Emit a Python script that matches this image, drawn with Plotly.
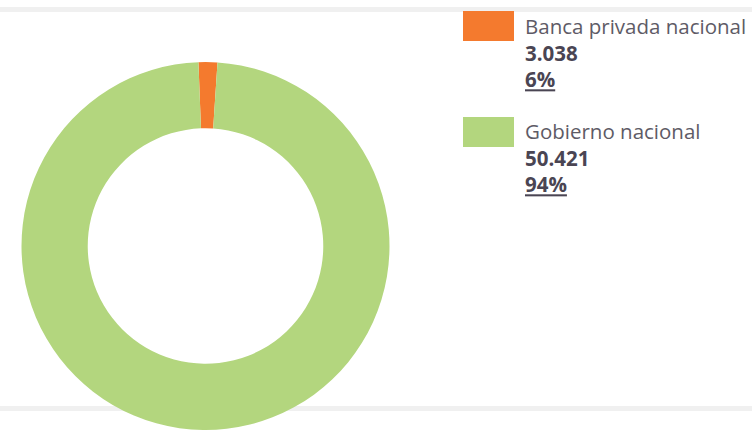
import plotly.graph_objects as go

# Datos
categorias = ["Banca privada nacional", "Gobierno nacional"]
montos = ["3.038", "50.421"]
porcentajes = ["6%", "94%"]
# proporción de cada sector tal como se ve en el anillo
sectores = [1.65, 98.35]
colores = ["#F47A2E", "#B3D67E"]

W, H = 752, 430


def py(p):
    # pixel vertical -> coordenada paper
    return 1 - p / H


def px_(x):
    return x / W


fig = go.Figure()

fig.add_trace(go.Pie(
    labels=categorias,
    values=sectores,
    hole=0.64,
    sort=False,
    direction="clockwise",
    rotation=-2.2,
    textinfo="none",
    hoverinfo="label",
    marker=dict(colors=colores, line=dict(width=0)),
    domain=dict(x=[px_(21.5), px_(389.5)], y=[py(430), py(62)]),
    showlegend=False,
))

# bandas grises arriba y abajo
for y0, y1 in [(7, 12), (406, 411)]:
    fig.add_shape(type="rect", xref="paper", yref="paper",
                  x0=0, x1=1, y0=py(y1), y1=py(y0),
                  fillcolor="#F0F0F0", line_width=0, layer="below")

# leyenda manual
tops = [11, 117]
for i, cat in enumerate(categorias):
    t = tops[i]
    fig.add_shape(type="rect", xref="paper", yref="paper",
                  x0=px_(463), x1=px_(514), y0=py(t + 30), y1=py(t),
                  fillcolor=colores[i], line_width=0)
    texto = ("<span style='color:#5E5B66'>" + cat + "</span><br>"
             "<b>" + montos[i] + "</b><br>"
             "<b><u>" + porcentajes[i] + "</u></b>")
    fig.add_annotation(xref="paper", yref="paper", x=px_(523), y=py(t - 1.5),
                       xanchor="left", yanchor="top", align="left", showarrow=False,
                       text=texto,
                       font=dict(family="Open Sans", size=20.5, color="#4A4553"))

fig.update_layout(
    width=W, height=H,
    margin=dict(l=0, r=0, t=0, b=0),
    paper_bgcolor="white",
    plot_bgcolor="white",
)

fig.write_html("out.html", config={"displayModeBar": False},
               post_script="document.body.style.margin='0';")
